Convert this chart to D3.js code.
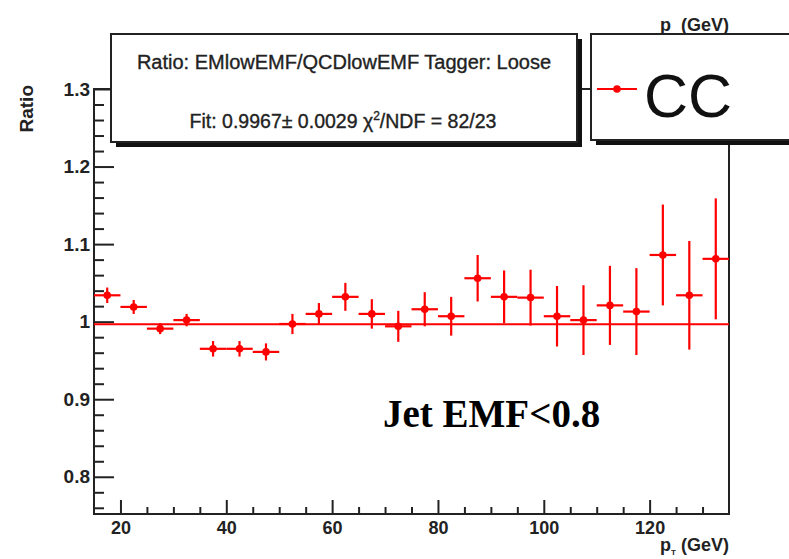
<!DOCTYPE html>
<html>
<head>
<meta charset="utf-8">
<script src="https://cdn.jsdelivr.net/npm/d3@7"></script>
<style>
  html, body { margin: 0; padding: 0; background: #fff; }
  svg { display: block; }
</style>
</head>
<body>
<div id="chart"></div>
<script>
// Ratio EMlowEMF / QCDlowEMF vs jet pT, CC region, with constant fit
const ptCenters = [17.5, 22.5, 27.5, 32.5, 37.5, 42.5, 47.5, 52.5, 57.5, 62.5, 67.5, 72.5,
                   77.5, 82.5, 87.5, 92.5, 97.5, 102.5, 107.5, 112.5, 117.5, 122.5, 127.5, 132.5];
const ptHalfWidth = 2.5;
const ratio = [1.034, 1.019, 0.991, 1.002, 0.965, 0.965, 0.961, 0.997, 1.010, 1.032, 1.010, 0.994,
               1.016, 1.007, 1.056, 1.032, 1.031, 1.007, 1.002, 1.021, 1.013, 1.086, 1.034, 1.081];
const ratioErr = [0.010, 0.009, 0.007, 0.008, 0.010, 0.010, 0.011, 0.013, 0.014, 0.018, 0.019, 0.020,
                  0.022, 0.025, 0.030, 0.034, 0.036, 0.039, 0.045, 0.051, 0.056, 0.065, 0.070, 0.078];
const fitValue = 0.9967;

const xDomain = [15, 135];
const yDomain = [0.752, 1.3];
const xMajorTicks = [20, 40, 60, 80, 100, 120];
const yMajorTicks = [0.8, 0.9, 1.0, 1.1, 1.2, 1.3];

const width = 789;
const height = 559;
const frame = { left: 94, right: 729, top: 89, bottom: 514 };
const font = "'Liberation Sans', Arial, Helvetica, sans-serif";

const svg = d3.select("#chart").append("svg")
    .attr("width", width)
    .attr("height", height);

const x = d3.scaleLinear().domain(xDomain).range([frame.left, frame.right]);
const y = d3.scaleLinear().domain(yDomain).range([frame.bottom, frame.top]);

const xMinor = d3.range(20, 135, 5).filter(v => !xMajorTicks.includes(v));
const yMinor = d3.range(38, 65).map(v => +(v * 0.02).toFixed(2))
    .filter(v => v > yDomain[0] && v < yDomain[1] && !yMajorTicks.some(m => Math.abs(m - v) < 1e-6));

// axes (ticks drawn inside the frame, ROOT style)
const gx = svg.append("g").attr("transform", `translate(0,${frame.bottom})`);
gx.append("g")
    .call(d3.axisBottom(x).tickValues(xMinor).tickSizeInner(-7).tickSizeOuter(0).tickFormat(""));
gx.append("g")
    .call(d3.axisBottom(x).tickValues(xMajorTicks).tickSizeInner(-14).tickSizeOuter(0).tickPadding(7))
    .selectAll("text")
    .style("font-family", font)
    .style("font-size", "18px")
    .style("font-weight", "bold")
    .attr("fill", "#222");

const gy = svg.append("g").attr("transform", `translate(${frame.left},0)`);
gy.append("g")
    .call(d3.axisLeft(y).tickValues(yMinor).tickSizeInner(-10).tickSizeOuter(0).tickFormat(""));
gy.append("g")
    .call(d3.axisLeft(y).tickValues(yMajorTicks).tickSizeInner(-20).tickSizeOuter(0).tickPadding(4)
        .tickFormat(d3.format("")))
    .selectAll("text")
    .style("font-family", font)
    .style("font-size", "19px")
    .style("font-weight", "bold")
    .attr("fill", "#222");

svg.selectAll(".domain").remove();
svg.selectAll(".tick line").attr("stroke", "#222").attr("stroke-width", 2);

// frame
svg.append("rect")
    .attr("x", frame.left)
    .attr("y", frame.top)
    .attr("width", frame.right - frame.left)
    .attr("height", frame.bottom - frame.top)
    .attr("fill", "none")
    .attr("stroke", "#222")
    .attr("stroke-width", 2);

// fit line
svg.append("line")
    .attr("x1", x(xDomain[0]))
    .attr("x2", x(xDomain[1]))
    .attr("y1", y(fitValue))
    .attr("y2", y(fitValue))
    .attr("stroke", "#ff0000")
    .attr("stroke-width", 2);

// data points with error bars
const points = ptCenters.map((pt, i) => ({ pt, r: ratio[i], e: ratioErr[i] }));
const pg = svg.append("g").attr("stroke", "#ff0000").attr("stroke-width", 2.2);

pg.selectAll("line.h")
    .data(points)
    .join("line")
    .attr("class", "h")
    .attr("x1", d => x(d.pt - ptHalfWidth))
    .attr("x2", d => x(d.pt + ptHalfWidth))
    .attr("y1", d => y(d.r))
    .attr("y2", d => y(d.r));

pg.selectAll("line.v")
    .data(points)
    .join("line")
    .attr("class", "v")
    .attr("x1", d => x(d.pt))
    .attr("x2", d => x(d.pt))
    .attr("y1", d => y(d.r - d.e))
    .attr("y2", d => y(d.r + d.e));

svg.append("g").selectAll("circle")
    .data(points)
    .join("circle")
    .attr("cx", d => x(d.pt))
    .attr("cy", d => y(d.r))
    .attr("r", 3.8)
    .attr("fill", "#ff0000");

// axis titles
function ptTitle(yPos, subDy) {
    const t = svg.append("text")
        .attr("x", frame.right)
        .attr("y", yPos)
        .attr("text-anchor", "end")
        .style("font-family", font)
        .style("font-size", "18px")
        .style("font-weight", "bold")
        .attr("fill", "#222");
    t.append("tspan").text("p");
    t.append("tspan").attr("dy", subDy).style("font-size", "8px").text("T");
    t.append("tspan").attr("dy", -subDy).text(" (GeV)");
}
ptTitle(551, 4);
ptTitle(31, 7);

svg.append("text")
    .attr("transform", `translate(33,${frame.top - 4}) rotate(-90)`)
    .attr("text-anchor", "end")
    .style("font-family", font)
    .style("font-size", "19px")
    .style("font-weight", "bold")
    .attr("fill", "#222")
    .text("Ratio");

// boxes with shadow
function box(bx, by, bw, bh) {
    svg.append("rect")
        .attr("x", bx + 5).attr("y", by + 5)
        .attr("width", bw).attr("height", bh)
        .attr("fill", "#111");
    svg.append("rect")
        .attr("x", bx).attr("y", by)
        .attr("width", bw).attr("height", bh)
        .attr("fill", "#fff")
        .attr("stroke", "#222")
        .attr("stroke-width", 2);
}

box(111, 34, 466, 108);
svg.append("text")
    .attr("x", 344).attr("y", 69)
    .attr("text-anchor", "middle")
    .style("font-family", font)
    .style("font-size", "20px")
    .attr("fill", "#222")
    .attr("stroke", "#222")
    .attr("stroke-width", 0.35)
    .text("Ratio: EMlowEMF/QCDlowEMF Tagger: Loose");

const fitText = svg.append("text")
    .attr("x", 343).attr("y", 128)
    .attr("text-anchor", "middle")
    .style("font-family", font)
    .style("font-size", "19.5px")
    .attr("fill", "#222")
    .attr("stroke", "#222")
    .attr("stroke-width", 0.35);
fitText.append("tspan").text("Fit: 0.9967\u00b1 0.0029 \u03c7");
fitText.append("tspan").attr("dy", -8).style("font-size", "12px").text("2");
fitText.append("tspan").attr("dy", 8).text("/NDF = 82/23");

box(591, 34, 260, 106);
svg.append("line")
    .attr("x1", 597).attr("x2", 637)
    .attr("y1", 89).attr("y2", 89)
    .attr("stroke", "#ff0000")
    .attr("stroke-width", 2);
svg.append("circle")
    .attr("cx", 617).attr("cy", 89).attr("r", 3.8)
    .attr("fill", "#ff0000");
svg.append("text")
    .attr("x", 644).attr("y", 117)
    .style("font-family", font)
    .style("font-size", "61px")
    .attr("fill", "#111")
    .text("CC");

// annotation
svg.append("text")
    .attr("x", 383).attr("y", 427)
    .style("font-family", "'Liberation Serif', 'Times New Roman', serif")
    .style("font-size", "39px")
    .style("font-weight", "bold")
    .attr("fill", "#000")
    .text("Jet EMF<0.8");
</script>
</body>
</html>
